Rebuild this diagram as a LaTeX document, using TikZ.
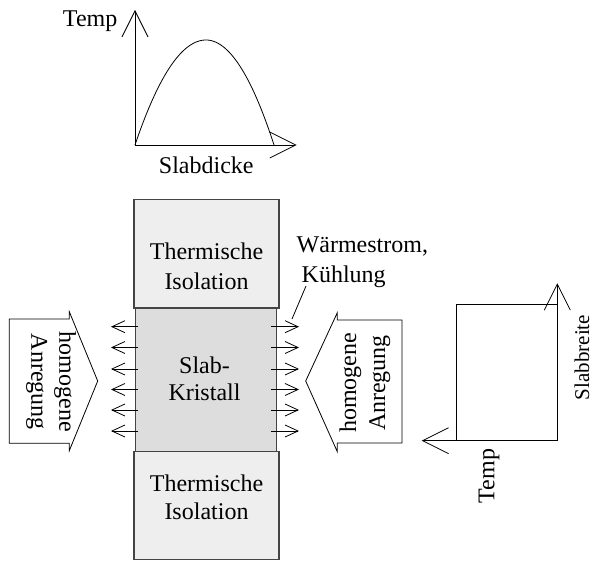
\documentclass[tikz,border=0pt]{standalone}
\usepackage{fontspec}
\setmainfont{Liberation Serif}
\usetikzlibrary{arrows.meta}
\definecolor{isofill}{HTML}{EEEEEE}
\definecolor{slabfill}{HTML}{DDDDDD}
\definecolor{boxline}{HTML}{444444}
\begin{document}
\begin{tikzpicture}[x=1pt,y=-1pt,
  every node/.style={font=\fontsize{24}{29}\selectfont, inner sep=0pt, outer sep=0pt},
  blockbox/.style={draw=boxline, line width=1.1pt},
  thinline/.style={line width=0.8pt, draw=black},
  bigtip/.style={-{Straight Barb[length=26pt,width=26pt]}},
  smalltip/.style={-{Straight Barb[length=13pt,width=12pt]}},
]
\useasboundingbox (0,0) rectangle (594,561);

% ---- top graph ----
\coordinate (O) at (135,145);
\coordinate (yTip) at (135,10);
\coordinate (xTip) at (296.7,145);
\draw[thinline, bigtip] (O) -- (yTip);
\draw[thinline, bigtip] (O) -- (xTip);
\draw[thinline] plot[domain=135:206, samples=50, smooth] (\x, {40 + 105/5041*(\x-206)*(\x-206)})
  -- plot[domain=206:274, samples=50, smooth] (\x, {40 + 105/4624*(\x-206)*(\x-206)});
\node[anchor=base east] (tempTop) at (117.3,26.7) {Temp};
\node[anchor=base] (slabdicke) at (206.3,173.3) {Slabdicke};

% ---- column ----
\node[blockbox, fill=slabfill, minimum width=141pt, minimum height=143pt] (slab) at (206.2,380) {};
\node[blockbox, fill=isofill, minimum width=145pt, minimum height=108.7pt] (isoTop) at (206.5,253.6) {};
\node[blockbox, fill=isofill, minimum width=145pt, minimum height=107.6pt] (isoBot) at (206.5,505.5) {};
\node[align=center, font=\fontsize{24}{30}\selectfont] (isoTopText) at (206.5,266) {Thermische\\Isolation};
\node[align=center, font=\fontsize{24}{28}\selectfont] (isoBotText) at (206.5,497) {Thermische\\Isolation};
\node[align=center, font=\fontsize{24}{27}\selectfont] (slabText) at (204.5,378.5) {Slab-\\Kristall};

% ---- small arrows ----
\foreach \i/\yy in {1/326.7, 2/347.5, 3/369, 4/389.5, 5/410, 6/431}{
  \coordinate (ls\i) at (138,\yy);
  \coordinate (lt\i) at (111,\yy);
  \coordinate (rs\i) at (271,\yy);
  \coordinate (rt\i) at (299,\yy);
  \draw[thinline, smalltip] (ls\i) -- (lt\i);
  \draw[thinline, smalltip] (rs\i) -- (rt\i);
}

% ---- Waermestrom label ----
\node[anchor=north west, align=left, font=\fontsize{24}{30}\selectfont] (waerme) at (296.7,237) {Wärmestrom,\\\hspace*{5pt}Kühlung};
\coordinate (leadA) at (306,286);
\coordinate (leadB) at (292,319);
\draw[thinline] (leadA) -- (leadB);

% ---- block arrows ----
\draw[thinline, fill=white] (9.3,319) -- (69.3,319) -- (69.3,311.7) -- (97.7,381) -- (69.3,450.7) -- (69.3,443.3) -- (9.3,443.3) -- cycle;
\node[rotate=-90, align=center, font=\fontsize{24}{28}\selectfont] (leftText) at (51,381.7) {homogene\\Anregung};
\draw[thinline, fill=white] (402,320) -- (337.3,320) -- (337.3,312.7) -- (305.7,381) -- (337.3,451.7) -- (337.3,443) -- (402,443) -- cycle;
\node[rotate=90, align=center, font=\fontsize{24}{29}\selectfont] (rightText) at (365,383) {homogene\\Anregung};

% ---- right graph ----
\coordinate (rBL) at (456,440.7);
\coordinate (rBR) at (557.3,440.7);
\coordinate (rTL) at (456,304.3);
\coordinate (rTR) at (557.3,304.3);
\coordinate (rTempTip) at (421.7,440.7);
\coordinate (rSlabTip) at (557.3,283.3);
\draw[thinline] (rBL) -- (rTL) -- (rTR);
\draw[thinline, bigtip] (rBR) -- (rTempTip);
\draw[thinline, bigtip] (rBR) -- (rSlabTip);
\node[rotate=90] (tempRight) at (489,476) {Temp};
\node[rotate=90, font=\fontsize{21}{25}\selectfont] (slabbreite) at (582,357.5) {Slabbreite};
\end{tikzpicture}
\end{document}
